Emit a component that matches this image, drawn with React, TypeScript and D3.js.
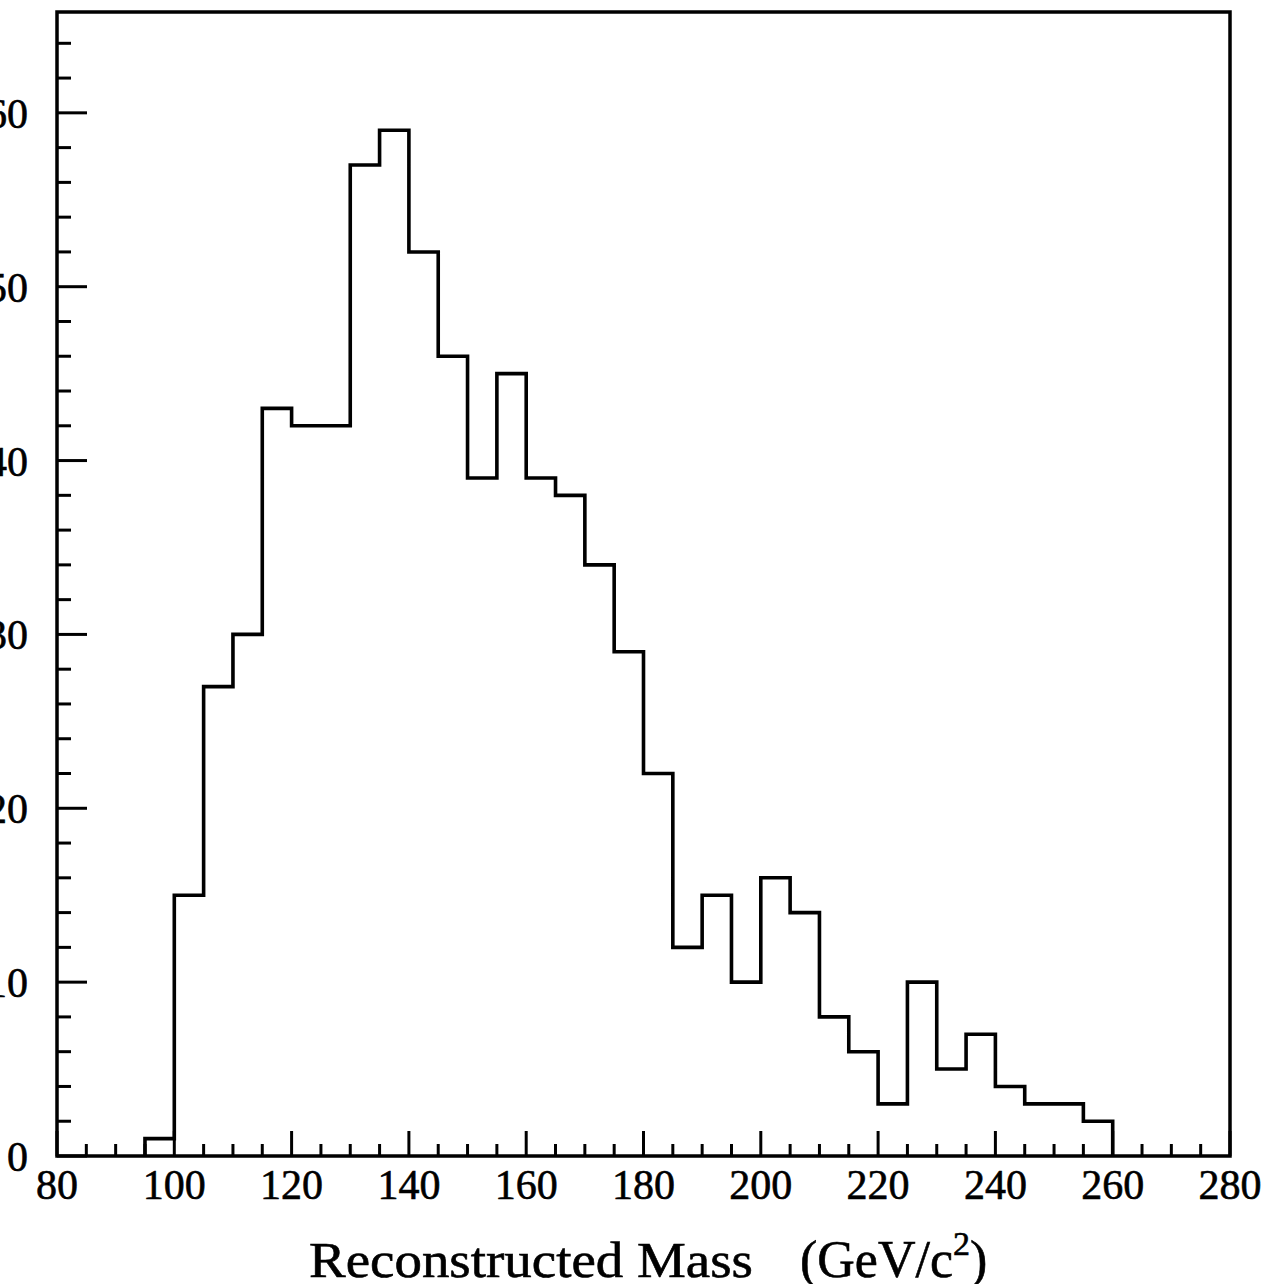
import React from "react";
import * as d3 from "d3";

// Histogram of reconstructed mass, 5 GeV/c^2 bins
const binLow: number[] = [
  95, 100, 105, 110, 115, 120, 125, 130, 135, 140, 145, 150, 155, 160, 165, 170,
  175, 180, 185, 190, 195, 200, 205, 210, 215, 220, 225, 230, 235, 240, 245, 250, 255,
];
const counts: number[] = [
  1, 15, 27, 30, 43, 42, 42, 57, 59, 52, 46, 39, 45, 39, 38, 34,
  29, 22, 12, 15, 10, 16, 14, 8, 6, 3, 10, 5, 7, 4, 3, 3, 2,
];
const binWidth = 5;

const xMajorTicks: number[] = [80, 100, 120, 140, 160, 180, 200, 220, 240, 260, 280];
const yMajorTicks: number[] = [0, 10, 20, 30, 40, 50, 60];

const W = 1267;
const H = 1284;
const FONT = "'Liberation Serif', 'Times New Roman', serif";

export default function App() {
  const x = d3.scaleLinear().domain([80, 280]).range([57, 1230]);
  const y = d3.scaleLinear().domain([0, 65.8]).range([1156, 12]);

  // Outline of the histogram as a step path
  const pts: [number, number][] = [];
  pts.push([binLow[0], 0]);
  binLow.forEach((b, i) => {
    pts.push([b, counts[i]]);
    pts.push([b + binWidth, counts[i]]);
  });
  pts.push([binLow[binLow.length - 1] + binWidth, 0]);
  const line = d3
    .line<[number, number]>()
    .x((d) => x(d[0]))
    .y((d) => y(d[1]));

  const xMinor = d3.range(80, 281, 5).filter((v) => v % 20 !== 0);
  const yMinor = d3.range(0, 65, 2).filter((v) => v % 10 !== 0);

  const x0 = x(80);
  const x1 = x(280);
  const yb = y(0);
  const yt = y(65.8);

  const textStyle = { stroke: "#000", strokeWidth: 0.6 };

  return (
    <svg
      width={W}
      height={H}
      style={{ position: "absolute", left: 0, top: 0, background: "#fff" }}
    >
      <rect x={0} y={0} width={W} height={H} fill="#fff" />
      {/* x ticks */}
      {xMajorTicks.map((t) => (
        <line key={"xM" + t} x1={x(t)} x2={x(t)} y1={yb} y2={yb - 25} stroke="#000" strokeWidth={3} />
      ))}
      {xMinor.map((t) => (
        <line key={"xm" + t} x1={x(t)} x2={x(t)} y1={yb} y2={yb - 12} stroke="#000" strokeWidth={3} />
      ))}
      {/* y ticks */}
      {yMajorTicks.map((t) => (
        <line key={"yM" + t} x1={x0} x2={x0 + 30} y1={y(t)} y2={y(t)} stroke="#000" strokeWidth={3} />
      ))}
      {yMinor.map((t) => (
        <line key={"ym" + t} x1={x0} x2={x0 + 14} y1={y(t)} y2={y(t)} stroke="#000" strokeWidth={3} />
      ))}
      {/* frame */}
      <rect x={x0} y={yt} width={x1 - x0} height={yb - yt} fill="none" stroke="#000" strokeWidth={3.5} />
      {/* histogram */}
      <path d={line(pts) || ""} fill="none" stroke="#000" strokeWidth={3.6} strokeLinejoin="miter" />
      {/* x tick labels */}
      {xMajorTicks.map((t) => (
        <text
          key={"xl" + t}
          x={x(t)}
          y={1199}
          textAnchor="middle"
          fontFamily={FONT}
          fontSize={42}
          fill="#000"
          style={textStyle}
        >
          {t}
        </text>
      ))}
      {/* y tick labels */}
      {yMajorTicks.map((t) => (
        <text
          key={"yl" + t}
          x={28}
          y={y(t) + 15}
          textAnchor="end"
          fontFamily={FONT}
          fontSize={42}
          fill="#000"
          style={textStyle}
        >
          {t}
        </text>
      ))}
      {/* axis title */}
      <text
        x={309}
        y={1277}
        fontFamily={FONT}
        fontSize={50}
        fill="#000"
        textLength={444}
        lengthAdjust="spacingAndGlyphs"
        style={textStyle}
      >
        Reconstructed Mass
      </text>
      <text x={800} y={1277} fontFamily={FONT} fontSize={52} fill="#000" style={textStyle}>
        (GeV/c
        <tspan dy={-22} fontSize={34}>2</tspan>
        <tspan dy={22}>)</tspan>
      </text>
    </svg>
  );
}
